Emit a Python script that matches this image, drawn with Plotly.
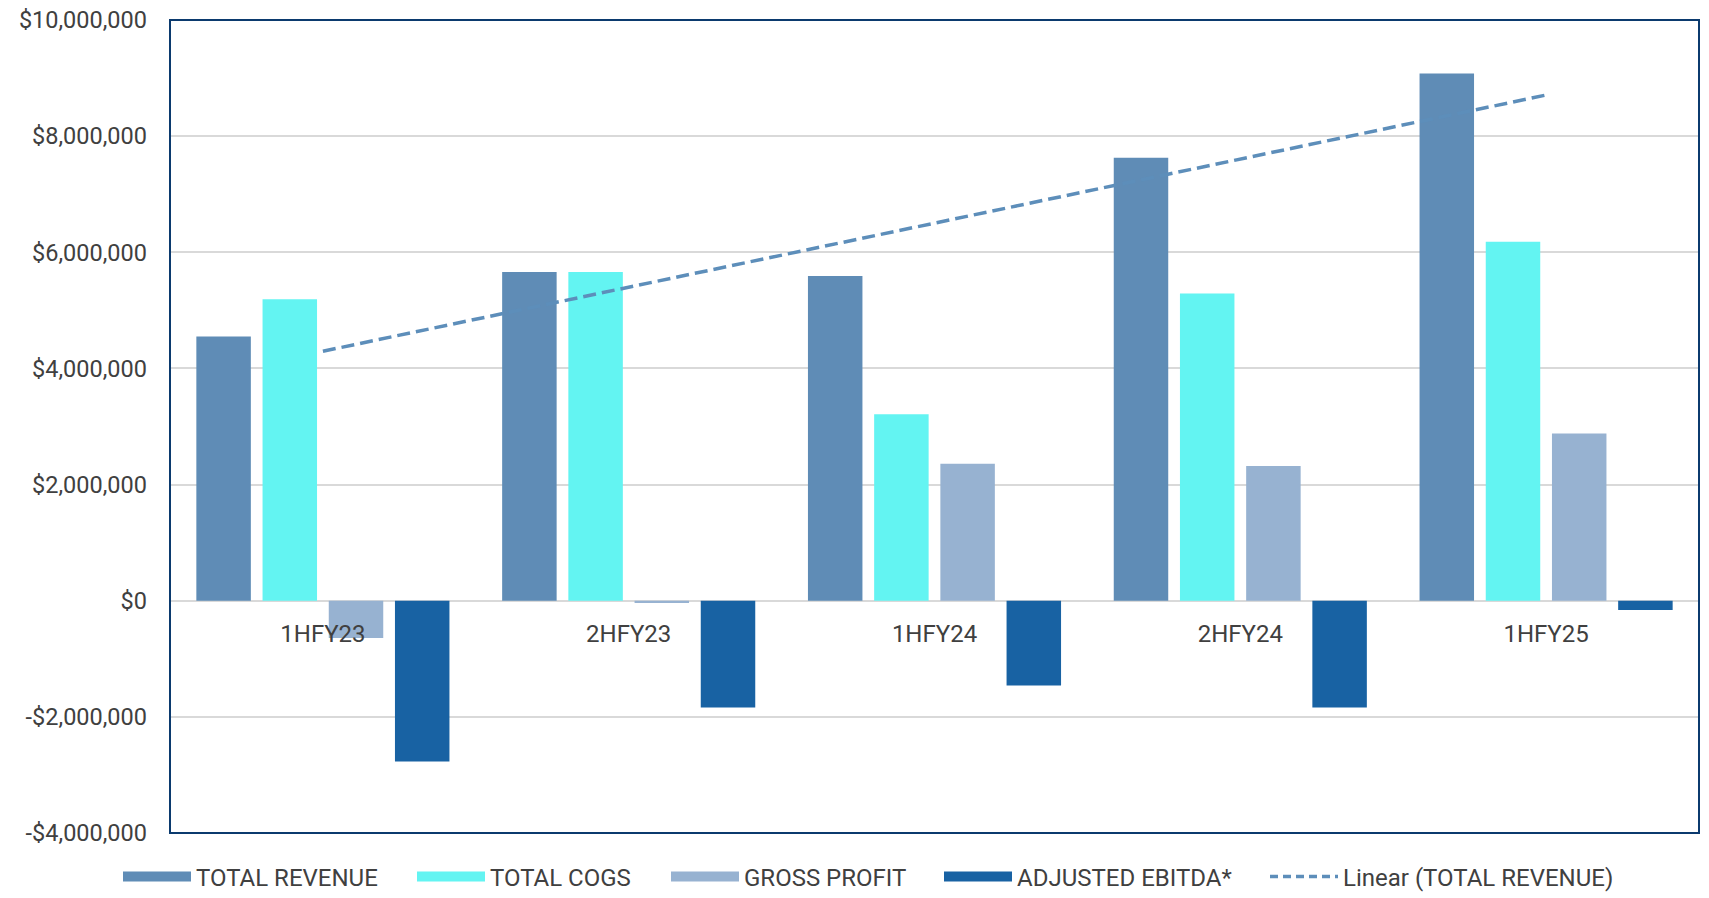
import numpy as np
import plotly.graph_objects as go

categories = ["1HFY23", "2HFY23", "1HFY24", "2HFY24", "1HFY25"]
total_revenue = [4550000, 5660000, 5590000, 7630000, 9080000]
total_cogs = [5190000, 5660000, 3210000, 5290000, 6180000]
gross_profit = [-640000, -40000, 2360000, 2320000, 2880000]
adjusted_ebitda = [-2770000, -1840000, -1460000, -1840000, -160000]

y_tick_vals = [-4000000, -2000000, 0, 2000000, 4000000, 6000000, 8000000, 10000000]
y_tick_text = ["-$4,000,000", "-$2,000,000", "$0", "$2,000,000", "$4,000,000",
               "$6,000,000", "$8,000,000", "$10,000,000"]

series = [
    ("TOTAL REVENUE", total_revenue, "#5F8CB6"),
    ("TOTAL COGS", total_cogs, "#63F4F2"),
    ("GROSS PROFIT", gross_profit, "#97B2D1"),
    ("ADJUSTED EBITDA*", adjusted_ebitda, "#1862A3"),
]
trend_name = "Linear (TOTAL REVENUE)"

FONT = "Roboto, 'Open Sans', sans-serif"
TEXT = "#404040"
W, H = 1709, 898
ML, MR, MT, MB = 170, 10, 20, 65
PW, PH = W - ML - MR, H - MT - MB
# left position (px) of each legend entry box
legend_left_px = [118, 412, 666, 939, 1265]
legend_center_y_px = 877
legend_ids = ["legend", "legend2", "legend3", "legend4", "legend5"]

fig = go.Figure()
for name, vals, col in series:
    fig.add_trace(go.Bar(x=categories, y=vals, name=name, marker=dict(color=col, line=dict(width=0)),
                         showlegend=False))

# linear trend of total revenue
xi = np.arange(1, len(categories) + 1)
slope, intercept = np.polyfit(xi, total_revenue, 1)
trend = slope * xi + intercept
TREND_COLOR = "#5D8EBA"
fig.add_trace(go.Scatter(x=categories, y=trend, mode="lines", showlegend=False,
                         line=dict(color=TREND_COLOR, width=3.5, dash="13px,6px")))

# legend entries
for (name, vals, col), lid in zip(series, legend_ids):
    fig.add_trace(go.Scatter(x=[None], y=[None], mode="lines", name=name, legend=lid,
                             line=dict(color=col, width=13)))
fig.add_trace(go.Scatter(x=[None], y=[None], mode="lines", name=trend_name, legend=legend_ids[4],
                         line=dict(color=TREND_COLOR, width=3.5, dash="8px,5px")))

zero_pos = (0 - y_tick_vals[0]) / (y_tick_vals[-1] - y_tick_vals[0])

legend_layouts = {}
for lid, lx in zip(legend_ids, legend_left_px):
    legend_layouts[lid] = dict(orientation="h", xref="paper", yref="paper",
                               x=(lx - ML) / PW, y=-(legend_center_y_px - (MT + PH)) / PH,
                               xanchor="left", yanchor="middle", maxheight=120,
                               itemwidth=68, bgcolor="rgba(0,0,0,0)",
                               font=dict(family=FONT, size=24, color=TEXT))

fig.update_layout(
    width=W, height=H,
    margin=dict(l=ML, r=MR, t=MT, b=MB, autoexpand=False),
    paper_bgcolor="white", plot_bgcolor="white",
    font=dict(family=FONT, size=24, color=TEXT),
    barmode="group", bargap=0.134, bargroupgap=0.177,
    xaxis=dict(type="category", anchor="free", position=zero_pos, showline=False,
               showgrid=False, zeroline=False, ticks="", ticklabelstandoff=16,
               tickfont=dict(family=FONT, size=24, color=TEXT)),
    yaxis=dict(range=[y_tick_vals[0], y_tick_vals[-1]], tickvals=y_tick_vals, ticktext=y_tick_text,
               showgrid=True, gridcolor="#D9D9D9", gridwidth=1.5, zeroline=True,
               zerolinecolor="#D9D9D9", zerolinewidth=1.5, showline=False, ticks="",
               ticklabelstandoff=22, tickfont=dict(family=FONT, size=23.5, color=TEXT)),
    shapes=[dict(type="rect", xref="paper", yref="paper", x0=0, x1=1, y0=0, y1=1,
                 line=dict(color="#0B3A6E", width=2), layer="above")],
    **legend_layouts,
)

fig.write_html("out.html")
